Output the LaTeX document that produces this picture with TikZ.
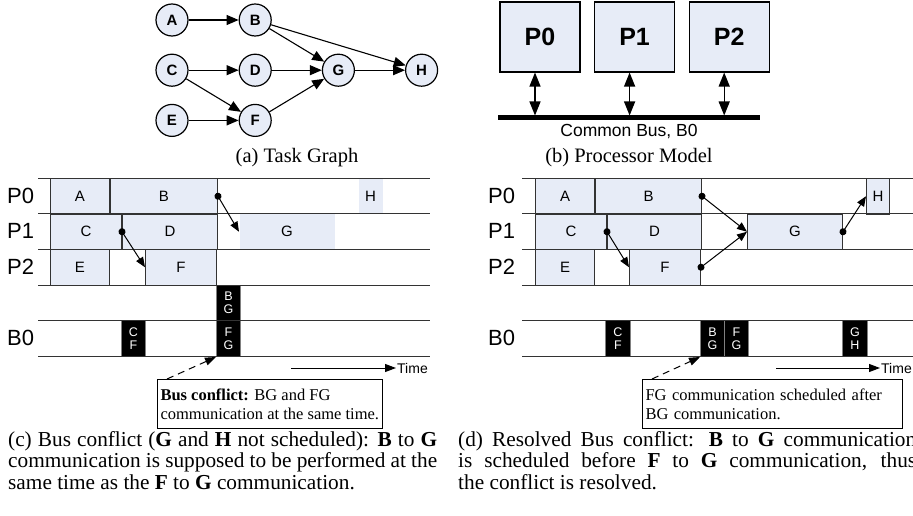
\documentclass[tikz,border=0pt]{standalone}
\usepackage{fontspec}
\setmainfont{Liberation Serif}
\setsansfont{Liberation Sans}
\usetikzlibrary{arrows.meta, positioning}
\definecolor{taskfill}{RGB}{231,236,247}

\begin{document}
\begin{tikzpicture}[
    x=1pt, y=-1pt,
    node distance=17pt and 50pt,
    vertex/.style={draw, circle, line width=1.2pt, minimum size=32pt, inner sep=0pt, fill=taskfill, font=\sffamily\bfseries\fontsize{15}{15}\selectfont},
    edge/.style={-{Triangle[length=12pt,width=10pt]}, line width=1.1pt},
    proc/.style={draw, line width=1.1pt, fill=taskfill, minimum width=80pt, minimum height=70pt, font=\sffamily\bfseries\fontsize{25}{25}\selectfont},
    dbl/.style={{Triangle[length=14pt,width=11pt]}-{Triangle[length=14pt,width=11pt]}, line width=1.3pt},
    rowlbl/.style={anchor=west, inner sep=0pt, font=\sffamily\fontsize{22}{22}\selectfont},
    grid/.style={black!80, line width=1pt},
    task/.style={draw=black!80, line width=1pt, fill=taskfill, anchor=north west, minimum height=35.5pt, inner sep=0pt, font=\sffamily\fontsize{15}{15}\selectfont},
    ghost/.style={task, draw=none},
    msg/.style={fill=black, draw=black!50, line width=1pt, text=white, anchor=north west, minimum width=24pt, minimum height=36pt, inner sep=0pt, align=center, font=\sffamily\fontsize{12.5}{13}\selectfont},
    comm/.style={{Circle[length=7pt]}-{Triangle[length=10pt,width=8pt]}, line width=1pt, shorten <=-3.5pt},
    timearrow/.style={-{Triangle[length=11pt,width=8pt]}, line width=1pt},
    timelbl/.style={anchor=west, inner sep=1pt, font=\sffamily\fontsize{14}{14}\selectfont},
    note/.style={draw, line width=1pt, anchor=north west, align=left, inner xsep=3pt, inner ysep=2pt, minimum height=49pt, font=\rmfamily\fontsize{16.5}{19}\selectfont},
    pointer/.style={dash pattern=on 7pt off 5pt, -{Triangle[length=11pt,width=8pt]}, line width=1pt},
    caption/.style={inner sep=0pt, font=\rmfamily\fontsize{21.3}{21.5}\selectfont},
    subcap/.style={inner sep=0pt, font=\rmfamily\fontsize{20.5}{20.5}\selectfont}
]
\useasboundingbox (0,0) rectangle (913,516);

% (a) task graph
\node[vertex] (A) at (172,20) {A};
\node[vertex, right=of A] (B) {B};
\node[vertex, below=of A] (C) {C};
\node[vertex, right=of C] (D) {D};
\node[vertex, below=of C] (E) {E};
\node[vertex, right=of E] (F) {F};
\node[vertex, right=of D] (G) {G};
\node[vertex, right=of G] (H) {H};

\foreach \from/\to in {A/B, B/G, B/H, C/D, C/F, D/G, E/F, F/G, G/H}
    \draw[edge] (\from) -- (\to);

\node[subcap] (capa) at (297,158) {(a) Task Graph};

% (b) processor model
\node[proc] (p0) at (540,37) {P0};
\node[proc, right=13.5pt of p0] (p1) {P1};
\node[proc, right=13.5pt of p1] (p2) {P2};
\coordinate (busl) at (498,118);
\coordinate (busr) at (760,118);
\draw[line width=5pt] (busl) -- (busr);
\node[anchor=base, inner sep=0pt, font=\sffamily\fontsize{17.5}{17.5}\selectfont] (buslbl) at (629,137) {Common Bus, B0};

\foreach \p in {p0, p1, p2}
    \draw[dbl, shorten >=2.5pt] ([xshift=-5pt]\p.south) -- ([xshift=-5pt]\p.south |- busl);

\node[subcap] (capb) at (629,158) {(b) Processor Model};

% (c) schedule with bus conflict
\node[task, minimum width=59pt] (a1) at (50,178) {A};
\node[task, minimum width=107pt] (b1) at (a1.north east) {B};
\node[task, minimum width=71pt] (c1) at (50,213.5) {C};
\node[task, minimum width=95pt] (d1) at (c1.north east) {D};
\node[task, minimum width=59pt] (e1) at (50,249) {E};
\node[task, minimum width=71pt] (f1) at (145,249) {F};
\node[ghost, minimum width=95pt] (g1) at (239,213.5) {G};
\node[ghost, minimum width=24pt] (h1) at (358,178) {H};

\node[msg] (cf1) at (121,320) {C\\F};
\node[msg, minimum height=35pt] (bg1) at (216,285) {B\\G};
\node[msg] (fg1) at (216,320) {F\\G};

\foreach \y in {178,213.5,249,285,320,356}
    \draw[grid] (38,\y) -- (430,\y);

\node[rowlbl] (l0) at (7,196) {P0};
\node[rowlbl] (l1) at (7,231) {P1};
\node[rowlbl] (l2) at (7,267) {P2};
\node[rowlbl] (lb) at (7,338) {B0};

\foreach \from/\to in {b1/g1, c1/f1}
    \draw[comm] (\from.east) -- (\to.west);

\coordinate (tstart1) at (291,368);
\node[timelbl] (time1) at (396,368) {Time};
\draw[timearrow] (tstart1) -- (time1.west);

\node[note] (note1) at (157,379) {\textbf{Bus conflict:} BG and FG\\communication at the same time.};
\draw[pointer] ([xshift=10pt]note1.north west) -- (fg1.south west);

\node[caption, anchor=north west, text width=429pt, align=justify] (capc) at (8,431)
    {(c) Bus conflict (\textbf{G} and \textbf{H} not scheduled): \textbf{B} to \textbf{G}\linebreak communication is supposed to be performed at the\linebreak same time as the \textbf{F} to \textbf{G} communication.};

% (d) schedule with resolved conflict
\node[task, minimum width=59pt] (a2) at (535,178) {A};
\node[task, minimum width=106pt] (b2) at (a2.north east) {B};
\node[task, minimum width=71pt] (c2) at (535,213.5) {C};
\node[task, minimum width=94pt] (d2) at (c2.north east) {D};
\node[task, minimum width=59pt] (e2) at (535,249) {E};
\node[task, minimum width=71pt] (f2) at (629,249) {F};
\node[task, minimum width=95pt] (g2) at (747,213.5) {G};
\node[task, minimum width=23pt] (h2) at (866,178) {H};

\node[msg, minimum width=25pt] (cf2) at (605,320) {C\\F};
\node[msg] (bg2) at (700,320) {B\\G};
\node[msg] (fg2) at (724,320) {F\\G};
\node[msg, minimum width=25pt] (gh2) at (842,320) {G\\H};

\foreach \y in {178,213.5,249,285,320,356}
    \draw[grid] (522,\y) -- (913,\y);

\node[rowlbl] (r0) at (488,196) {P0};
\node[rowlbl] (r1) at (488,231) {P1};
\node[rowlbl] (r2) at (488,267) {P2};
\node[rowlbl] (rb) at (488,338) {B0};

\foreach \from/\to in {b2/g2, f2/g2, c2/f2, g2/h2}
    \draw[comm] (\from.east) -- (\to.west);

\coordinate (tstart2) at (776,368);
\node[timelbl] (time2) at (880,368) {Time};
\draw[timearrow] (tstart2) -- (time2.west);

\node[note, text width=254pt] (note2) at (642,379) {FG communication scheduled after\\BG communication.};
\draw[pointer] ([xshift=10pt]note2.north west) -- (bg2.south west);

\node[caption, anchor=north west, text width=458pt, align=justify] (capd) at (458,431)
    {(d) Resolved Bus conflict: \textbf{B} to \textbf{G} communication\linebreak is scheduled before \textbf{F} to \textbf{G} communication, thus\linebreak the conflict is resolved.};

\end{tikzpicture}
\end{document}
